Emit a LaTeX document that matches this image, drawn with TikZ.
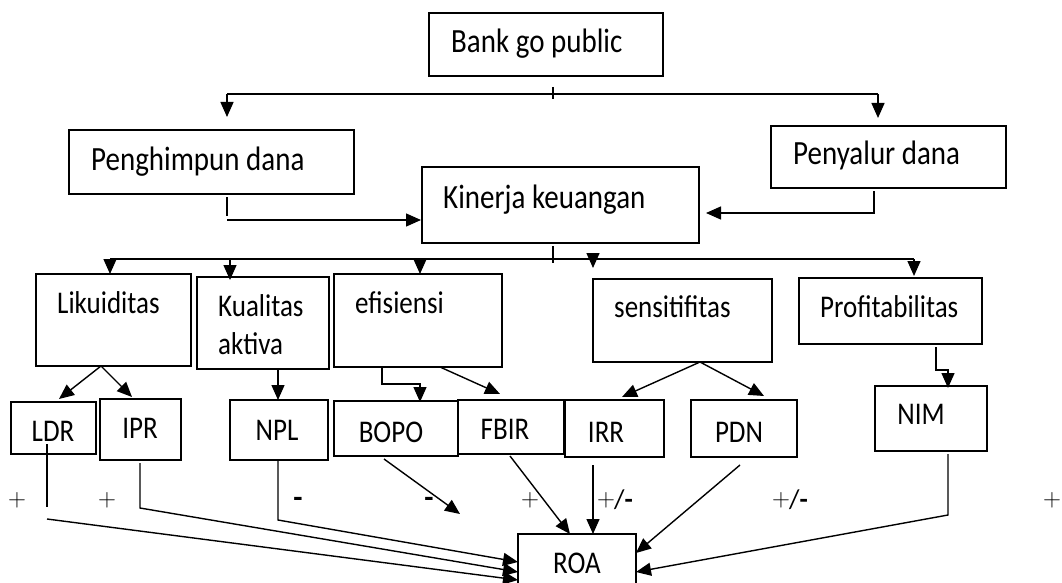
\documentclass[tikz,border=0pt]{standalone}
\usepackage{fontspec}
\usepackage{graphicx}
\setmainfont{Carlito}
\usetikzlibrary{arrows.meta}
\newcommand\mybox[5]{\node[box, minimum width={#4-#2}, minimum height={#5-#3}] (#1) at ({(#2+#4)/2},{(#3+#5)/2}) {};}
\newcommand\tall[1]{\scalebox{1}[1.17]{#1}}
\newcommand\plusminuslbl{\raisebox{2pt}{\fontsize{23}{27}\selectfont$+$}\kern-1pt/\textbf{-}}
\begin{document}
\begin{tikzpicture}[x=1pt,y=-1pt,
  box/.style={draw, line width=1.4pt, inner sep=0pt, outer sep=0pt},
  big/.style={inner sep=0pt, font=\fontsize{29}{35}\selectfont},
  small/.style={inner sep=0pt, font=\fontsize{27}{33}\selectfont},
  plus/.style={inner sep=0pt, font=\fontsize{23}{27}\selectfont},
  minus/.style={inner sep=0pt, font=\fontsize{30}{36}\selectfont\bfseries},
  ln/.style={line width=1.4pt},
  arr/.style={line width=1.4pt, -{Triangle[length=15pt,width=13pt]}},
]
\useasboundingbox (0,0) rectangle (1062,583);
\fill[white] (0,0) rectangle (1062,583);
\clip (0,0) rectangle (1062,583);

% boxes
\mybox{bank}{429}{13}{663}{76}
\mybox{peng}{69}{130}{354}{194}
\mybox{peny}{771}{126}{1006}{188}
\mybox{kin}{422}{167}{699}{243}
\mybox{lik}{36}{274}{191}{366}
\mybox{kual}{197}{277}{329}{369}
\mybox{efi}{334}{274}{502}{367}
\mybox{sens}{593}{279}{772}{362}
\mybox{prof}{799}{278}{982}{344}
\mybox{ldr}{11}{402}{96}{454}
\mybox{ipr}{100}{399}{181}{460}
\mybox{npl}{230}{400}{328}{460}
\mybox{bopo}{334}{401}{458}{456}
\mybox{fbir}{458}{400}{564}{454}
\mybox{irr}{565}{400}{664}{457}
\mybox{pdn}{691}{400}{797}{457}
\mybox{nim}{875}{386}{987}{451}
\mybox{roa}{518}{534}{636}{600}

% texts
\node[big, anchor=base west] (tbank) at (451,53) {\tall{Bank go public}};
\node[big, anchor=base west] (tpeng) at (91,170) {\tall{Penghimpun dana}};
\node[big, anchor=base west] (tpeny) at (793,164) {\tall{Penyalur dana}};
\node[big, anchor=base west] (tkin) at (443,208) {\tall{Kinerja keuangan}};
\node[small, anchor=base west] (tlik) at (57,313) {\tall{Likuiditas}};
\node[small, anchor=base west] (tkual1) at (218,316) {\tall{Kualitas}};
\node[small, anchor=base west] (tkual2) at (218,354) {\tall{aktiva}};
\node[small, anchor=base west] (tefi) at (355,313) {\tall{efisiensi}};
\node[small, anchor=base west] (tsens) at (614,317) {\tall{sensitifitas}};
\node[small, anchor=base west] (tprof) at (820,317) {\tall{Profitabilitas}};
\node[small, anchor=base] (tldr) at (53,441) {\tall{LDR}};
\node[small, anchor=base] (tipr) at (140,438) {\tall{IPR}};
\node[small, anchor=base] (tnpl) at (277,440) {\tall{NPL}};
\node[small, anchor=base] (tbopo) at (391,442) {\tall{BOPO}};
\node[small, anchor=base] (tfbir) at (505,439) {\tall{FBIR}};
\node[small, anchor=base] (tirr) at (606,442) {\tall{IRR}};
\node[small, anchor=base] (tpdn) at (739,442) {\tall{PDN}};
\node[small, anchor=base] (tnim) at (921,424) {\tall{NIM}};
\node[small, anchor=base] (troa) at (577,573) {\tall{ROA}};

% signs
\node[plus] (s1) at (17,500) {$+$};
\node[plus] (s2) at (107,500) {$+$};
\node[minus] (s3) at (298,502) {-};
\node[minus] (s4) at (429,502) {-};
\node[plus] (s5) at (530,500) {$+$};
\node[small, anchor=west] (s6) at (597,500) {\plusminuslbl};
\node[small, anchor=west] (s7) at (772,500) {\plusminuslbl};
\node[plus] (s8) at (1052,500) {$+$};

% top split
\draw[ln] (553,87) -- (553,99);
\draw[ln] (227,94) -- (878,94);
\draw[arr] (227,94) -- (227,117);
\draw[arr] (878,94) -- (878,118);

% to Kinerja
\coordinate (kinL) at (421,220);
\coordinate (kinR) at (706,213);
\draw[ln] (227,197) -- (227,216);
\draw[arr] (227,220) -- (kinL);
\draw[arr] (874,191) -- (874,213) -- (kinR);

% Kinerja split
\draw[ln] (553,246) -- (553,263);
\draw[ln] (110,259) -- (914,259);
\draw[arr] (110,259) -- (110,274);
\draw[arr] (230,259) -- (230,280);
\draw[arr] (420,259) -- (420,274);
\draw[arr] (593,259) -- (593,268);
\draw[arr] (914,259) -- (914,276);

% second level
\draw[arr] (101,366) -- (59,399);
\draw[arr] (101,366) -- (132,397);
\draw[arr] (278,369) -- (278,400);
\draw[arr] (382,367) -- (382,384) -- (420,384) -- (420,402);
\draw[arr] (440,367) -- (500,394);
\draw[arr] (700,362) -- (622,397);
\draw[arr] (700,362) -- (764,396);
\draw[arr] (936,347) -- (936,370) -- (948,370) -- (948,388);

% to ROA
\draw[ln] (47,444) -- (47,507);
\draw[arr] (47,519) -- (roa.west |- 0,580);
\draw[arr] (140,463) -- (140,508) -- (roa.west |- 0,572);
\draw[arr] (278,460) -- (278,520) -- (roa.west |- 0,562);
\coordinate (bopoend) at (460,514);
\draw[arr] (384,459) -- (bopoend);
\draw[arr] (510,456) -- (570,534);
\draw[arr] (593,465) -- (593,534);
\draw[arr] (740,465) -- (roa.east |- 0,553);
\draw[arr] (948,454) -- (948,515) -- (roa.east |- 0,572);
\end{tikzpicture}
\end{document}
